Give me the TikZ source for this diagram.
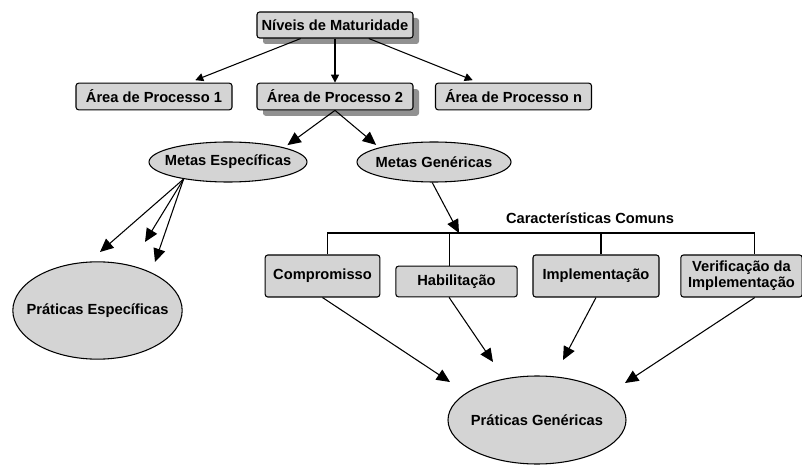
\documentclass[tikz,border=0pt]{standalone}
\usepackage{fontspec}
\setmainfont{Liberation Sans}
\usetikzlibrary{arrows.meta,shapes.geometric,shadows}
\definecolor{boxgray}{RGB}{212,212,212}
\definecolor{shadegray}{RGB}{145,145,145}

\begin{document}
\begin{tikzpicture}[x=0.75pt,y=-0.75pt,line width=0.8pt,
  font=\bfseries\fontsize{11}{12}\selectfont,
  box/.style={draw,fill=boxgray,rounded corners=2pt,inner sep=0pt,align=center},
  shadebox/.style={box,drop shadow={shadow xshift=4.5pt,shadow yshift=-4.5pt,fill=shadegray,opacity=1}},
  oval/.style={ellipse,draw,fill=boxgray,inner sep=0pt},
  bigtip/.style={-{Triangle[length=10pt,width=9pt]}},
  smalltip/.style={-{Triangle[length=6pt,width=6pt]}}]
\useasboundingbox (0,0) rectangle (802,466);

% top levels
\node[shadebox,minimum width=117pt,minimum height=19.5pt] (niv) at (335,25) {Níveis de Maturidade};
\node[box,minimum width=117pt,minimum height=20pt] (ap1) at (154,96.5) {Área de Processo 1};
\node[shadebox,minimum width=117pt,minimum height=20pt] (ap2) at (335,96.5) {Área de Processo 2};
\node[box,minimum width=117pt,minimum height=20pt] (apn) at (513.5,96.5) {Área de Processo n};

% goals
\node[oval,minimum width=118.5pt,minimum height=30pt,label=center:Metas Específicas] (me) at (228,162) {};
\node[oval,minimum width=115.5pt,minimum height=30pt,label=center:Metas Genéricas] (mg) at (434,162) {};
\node[oval,minimum width=127pt,minimum height=73pt,label=center:Práticas Específicas] (pe) at (97.5,310.5) {};

% common features
\node (cc) at (590,218) {Características Comuns};
\coordinate (bus) at (459,233);
\node[box,minimum width=86pt,minimum height=31.5pt] (comp) at (322.5,276) {Compromisso};
\node[box,minimum width=91pt,minimum height=23pt] (hab) at (456.5,281.5) {Habilitação};
\node[box,minimum width=94.5pt,minimum height=31.5pt] (impl) at (596,276) {Implementação};
\node[box,minimum width=91pt,minimum height=31.5pt] (verif) at (741.5,276) {Verificação da\\Implementação};
\node[oval,minimum width=133.5pt,minimum height=66pt,label=center:Práticas Genéricas] (pg) at (537,420) {};

% free arrow ends
\coordinate (pe1) at (100,252);
\coordinate (pe2) at (145,242);
\coordinate (pe3) at (155,262);
\coordinate (pg1) at (450,382);
\coordinate (pg2) at (493,362);
\coordinate (pg3) at (563,360);
\coordinate (pg4) at (625,383);

% arrows
\draw[smalltip,shorten >=5pt] (niv) -- (ap1);
\draw[smalltip] (niv) -- (ap2);
\draw[smalltip,shorten >=5pt] (niv) -- (apn);
\draw[bigtip,shorten >=3pt] (ap2.south) -- (me.north east);
\draw[bigtip,shorten >=3pt] (ap2.south) -- (mg.north west);
\draw[bigtip] (me.-159) -- (pe1);
\draw[bigtip] (me.-159) -- (pe2);
\draw[bigtip] (me.-159) -- (pe3);
\draw[bigtip] (mg.-95) -- (bus);

% bracket
\draw ([xshift=4pt]comp.north) -- ([xshift=4pt]comp.north |- bus) -- ([xshift=10pt]verif.north |- bus) -- ([xshift=10pt]verif.north);
\draw ([xshift=-5.6pt]hab.north) -- ([xshift=-5.6pt]hab.north |- bus);
\draw ([xshift=3.75pt]impl.north) -- ([xshift=3.75pt]impl.north |- bus);

\draw[bigtip] (comp.south) -- (pg1);
\draw[bigtip] ([xshift=-5.6pt]hab.south) -- (pg2);
\draw[bigtip] (impl.south) -- (pg3);
\draw[bigtip] ([xshift=10pt]verif.south) -- (pg4);
\end{tikzpicture}
\end{document}
